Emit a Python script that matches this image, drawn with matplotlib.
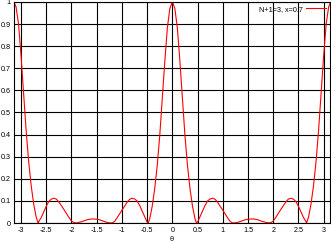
import numpy as np
import matplotlib
matplotlib.use("Agg")
import matplotlib.pyplot as plt

plt.rcParams["font.family"] = ["Liberation Sans", "DejaVu Sans"]
plt.rcParams["axes.unicode_minus"] = False

# curve (theta, intensity)
theta = [-3.14, -3.1, -3.05, -3.0, -2.95, -2.9, -2.85, -2.8, -2.75, -2.7,
         -2.66, -2.65, -2.6, -2.55, -2.5, -2.45, -2.4, -2.35, -2.3, -2.25,
         -2.2, -2.15, -2.1, -2.05, -2.0, -1.95, -1.9, -1.85, -1.8, -1.75,
         -1.7, -1.65, -1.6, -1.55, -1.5, -1.45, -1.4, -1.35, -1.3, -1.25,
         -1.2, -1.15, -1.1, -1.05, -1.0, -0.95, -0.9, -0.85, -0.8, -0.75,
         -0.7, -0.65, -0.6, -0.55, -0.5, -0.48, -0.45, -0.4, -0.35, -0.3,
         -0.25, -0.2, -0.15, -0.1, -0.05, 0.0,
         0.05, 0.1, 0.15, 0.2, 0.25, 0.3, 0.35, 0.4, 0.45, 0.48,
         0.5, 0.55, 0.6, 0.65, 0.7, 0.75, 0.8, 0.85, 0.9, 0.95,
         1.0, 1.05, 1.1, 1.15, 1.2, 1.25, 1.3, 1.35, 1.4, 1.45,
         1.5, 1.55, 1.6, 1.65, 1.7, 1.75, 1.8, 1.85, 1.9, 1.95,
         2.0, 2.05, 2.1, 2.15, 2.2, 2.25, 2.3, 2.35, 2.4, 2.45,
         2.5, 2.55, 2.6, 2.65, 2.66, 2.7, 2.75, 2.8, 2.85, 2.9,
         2.95, 3.0, 3.05, 3.1, 3.14]
intensity = [1.0, 0.978, 0.9, 0.755, 0.59, 0.42, 0.28, 0.17, 0.086, 0.026,
             0.0, 0.006, 0.025, 0.051, 0.076, 0.097, 0.108, 0.112, 0.108, 0.095,
             0.078, 0.061, 0.043, 0.025, 0.009, 0.001, 0.001, 0.003, 0.006, 0.010,
             0.014, 0.017, 0.018, 0.018, 0.017, 0.015, 0.011, 0.007, 0.003, 0.001,
             0.0, 0.006, 0.022, 0.04, 0.058, 0.075, 0.093, 0.107, 0.112, 0.109,
             0.1, 0.08, 0.055, 0.03, 0.004, 0.0, 0.018, 0.075, 0.155, 0.26,
             0.395, 0.56, 0.73, 0.88, 0.97, 1.0,
             0.97, 0.88, 0.73, 0.56, 0.395, 0.26, 0.155, 0.075, 0.018, 0.0,
             0.004, 0.03, 0.055, 0.08, 0.1, 0.109, 0.112, 0.107, 0.093, 0.075,
             0.058, 0.04, 0.022, 0.006, 0.0, 0.001, 0.003, 0.007, 0.011, 0.015,
             0.017, 0.018, 0.018, 0.017, 0.014, 0.010, 0.006, 0.003, 0.001, 0.001,
             0.009, 0.025, 0.043, 0.061, 0.078, 0.095, 0.108, 0.112, 0.108, 0.097,
             0.076, 0.051, 0.025, 0.006, 0.0, 0.026, 0.086, 0.17, 0.28, 0.42,
             0.59, 0.755, 0.9, 0.978, 1.0]

xticks = [-3, -2.5, -2, -1.5, -1, -0.5, 0, 0.5, 1, 1.5, 2, 2.5, 3]
xticklabels = ["-3", "-2.5", "-2", "-1.5", "-1", "-0.5", "0", "0.5", "1", "1.5", "2", "2.5", "3"]
yticks = [0, 0.1, 0.2, 0.3, 0.4, 0.5, 0.6, 0.7, 0.8, 0.9, 1]
yticklabels = ["0", "0.1", "0.2", "0.3", "0.4", "0.5", "0.6", "0.7", "0.8", "0.9", "1"]

fig = plt.figure(figsize=(3.31, 2.43), dpi=100)
ax = fig.add_axes([0.0408, 0.0823, 0.956, 0.9099])

ax.plot(theta, intensity, color="red", lw=0.8, label="N+1=3, x=0.7")

ax.set_xlim(-3.15, 3.125)
ax.set_ylim(0, 1)
ax.set_xticks(xticks)
ax.set_xticklabels(xticklabels)
ax.set_yticks(yticks)
ax.set_yticklabels(yticklabels)
ax.tick_params(direction="in", length=0, labelsize=5.2, pad=2)
ax.tick_params(axis="x", pad=3)
ax.grid(True, color="black", lw=0.8)
ax.set_axisbelow(True)
for s in ax.spines.values():
    s.set_linewidth(0.8)

ax.set_xlabel("θ", fontsize=5.2, labelpad=1)

ax.legend(loc="upper right", frameon=False, fontsize=5.2, markerfirst=False,
          handlelength=2.8, borderaxespad=0.3, handletextpad=0.5,
          borderpad=0.2)

fig.savefig("out.png", dpi=100)
